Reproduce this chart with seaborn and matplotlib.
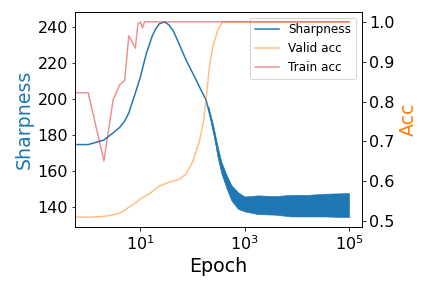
import numpy as np
import pandas as pd
import matplotlib
matplotlib.use("Agg")
import matplotlib.pyplot as plt
import seaborn as sns
from matplotlib.ticker import NullLocator

# ---- data ----
sharp_epoch = [0, 1, 2, 3, 4, 5, 6, 7, 8, 10, 13, 17, 20, 23, 29, 35, 43, 56, 75,
               110, 150, 183, 228, 286, 357, 445, 555, 745, 1000, 1800, 3800,
               7900, 16500, 34000, 100000]
sharp_value = [174.5, 174.5, 177, 181, 184, 187.5, 192, 198, 203, 212, 225, 235,
               239, 241.5, 242.6, 241, 237.5, 230, 221.5, 212, 204, 199, 188, 175,
               162, 154, 148, 143, 141.5, 141, 140.7, 140.6, 140.6, 140.9, 140.8]

# envelope of the noisy sharpness trace
band_epoch = [200, 250, 300, 357, 445, 555, 745, 1000, 1800, 3800, 7900, 16500,
              34000, 100000]
band_low = [194, 181, 168, 158.5, 150.5, 143.5, 138.8, 137.4, 135.9, 135.6,
            134.6, 134.6, 134.6, 134.2]
band_high = [196, 185, 174, 165, 158, 152, 148, 145.7, 146.3, 145.9, 146.6,
             146.6, 147.2, 147.6]

valid_epoch = [0, 1, 2, 3, 4, 5, 6, 8, 10, 15, 23, 36, 56, 75, 100, 135, 165,
               180, 211, 245, 307, 381, 100000]
valid_acc = [0.51, 0.51, 0.512, 0.516, 0.52, 0.527, 0.535, 0.545, 0.556, 0.569,
             0.588, 0.598, 0.605, 0.618, 0.648, 0.70, 0.755, 0.80, 0.888, 0.938,
             0.98, 1.0, 1.0]

train_epoch = [0, 1, 2, 3, 4, 5, 6, 7, 8, 9, 10, 11, 12, 100000]
train_acc = [0.822, 0.822, 0.651, 0.804, 0.842, 0.853, 0.965, 0.95, 0.934, 0.995,
             1.0, 0.985, 1.0, 1.0]

sharp_df = pd.DataFrame({"Epoch": sharp_epoch, "Sharpness": sharp_value})
valid_df = pd.DataFrame({"Epoch": valid_epoch, "Acc": valid_acc})
train_df = pd.DataFrame({"Epoch": train_epoch, "Acc": train_acc})

plt.rcParams["font.family"] = ["DejaVu Sans"]

fig, ax = plt.subplots(figsize=(6, 4), dpi=72)
fig.subplots_adjust(left=0.174, right=0.838, top=0.958, bottom=0.212)

sns.lineplot(data=sharp_df, x="Epoch", y="Sharpness", ax=ax, color="C0",
             lw=1.5, estimator=None, sort=False, legend=False)
ax.fill_between(band_epoch, band_low, band_high, color="C0", lw=0.6,
                edgecolor="C0")

ax2 = ax.twinx()
sns.lineplot(data=valid_df, x="Epoch", y="Acc", ax=ax2, color="C1", alpha=0.5,
             lw=1.5, estimator=None, sort=False, legend=False)
sns.lineplot(data=train_df, x="Epoch", y="Acc", ax=ax2, color="C3", alpha=0.5,
             lw=1.5, estimator=None, sort=False, legend=False)

ax.set_xscale("log")
ax.xaxis.set_minor_locator(NullLocator())

ax.set_xlabel("Epoch", fontsize=19)
ax.set_ylabel("Sharpness", fontsize=19, color="C0")
ax2.set_ylabel("Acc", fontsize=19, color="C1")
ax.tick_params(labelsize=16)
ax2.tick_params(labelsize=16)
ax2.set_yticks([0.5, 0.6, 0.7, 0.8, 0.9, 1.0])

handles = [ax.get_lines()[0], ax2.get_lines()[0], ax2.get_lines()[1]]
ax.legend(handles, ["Sharpness", "Valid acc", "Train acc"], loc="upper right",
          fontsize=12)

fig.savefig("out.png", dpi=72)
